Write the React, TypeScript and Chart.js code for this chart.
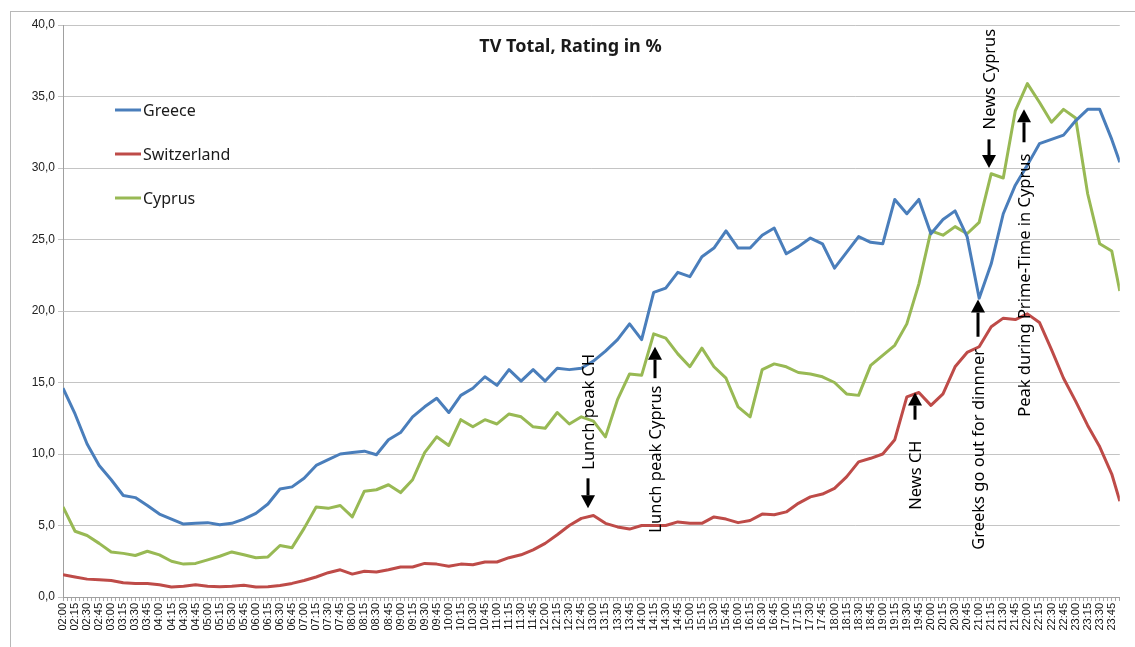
import { useEffect, useRef } from 'react';
import { Chart, registerables } from 'chart.js';

Chart.register(...registerables);

const timeLabels = [
  '02:00', '02:15', '02:30', '02:45', '03:00', '03:15', '03:30', '03:45', '04:00', '04:15',
  '04:30', '04:45', '05:00', '05:15', '05:30', '05:45', '06:00', '06:15', '06:30', '06:45',
  '07:00', '07:15', '07:30', '07:45', '08:00', '08:15', '08:30', '08:45', '09:00', '09:15',
  '09:30', '09:45', '10:00', '10:15', '10:30', '10:45', '11:00', '11:15', '11:30', '11:45',
  '12:00', '12:15', '12:30', '12:45', '13:00', '13:15', '13:30', '13:45', '14:00', '14:15',
  '14:30', '14:45', '15:00', '15:15', '15:30', '15:45', '16:00', '16:15', '16:30', '16:45',
  '17:00', '17:15', '17:30', '17:45', '18:00', '18:15', '18:30', '18:45', '19:00', '19:15',
  '19:30', '19:45', '20:00', '20:15', '20:30', '20:45', '21:00', '21:15', '21:30', '21:45',
  '22:00', '22:15', '22:30', '22:45', '23:00', '23:15', '23:30', '23:45', '23:55',
];

const greece = [
  14.6, 12.8, 10.7, 9.2, 8.2, 7.1, 6.95, 6.4, 5.8, 5.45,
  5.1, 5.15, 5.2, 5.05, 5.15, 5.45, 5.85, 6.5, 7.55, 7.7,
  8.3, 9.2, 9.6, 10.0, 10.1, 10.2, 9.95, 11.0, 11.5, 12.6,
  13.3, 13.9, 12.9, 14.1, 14.6, 15.4, 14.8, 15.9, 15.1, 15.9,
  15.1, 16.0, 15.9, 16.0, 16.5, 17.2, 18.0, 19.1, 18.0, 21.3,
  21.6, 22.7, 22.4, 23.8, 24.4, 25.6, 24.4, 24.4, 25.3, 25.8,
  24.0, 24.5, 25.1, 24.7, 23.0, 24.1, 25.2, 24.8, 24.7, 27.8,
  26.8, 27.8, 25.4, 26.4, 27.0, 25.2, 20.9, 23.3, 26.8, 28.8,
  30.2, 31.7, 32.0, 32.3, 33.3, 34.1, 34.1, 32.0, 30.4,
];

const switzerland = [
  1.55, 1.4, 1.25, 1.2, 1.15, 1.0, 0.95, 0.95, 0.85, 0.7,
  0.75, 0.85, 0.75, 0.72, 0.75, 0.82, 0.7, 0.72, 0.8, 0.95,
  1.15, 1.4, 1.7, 1.9, 1.6, 1.8, 1.75, 1.9, 2.1, 2.1,
  2.35, 2.3, 2.15, 2.3, 2.25, 2.45, 2.45, 2.75, 2.95, 3.3,
  3.75, 4.35, 5.0, 5.5, 5.7, 5.15, 4.9, 4.75, 5.0, 5.0,
  5.0, 5.25, 5.15, 5.15, 5.6, 5.45, 5.2, 5.35, 5.8, 5.75,
  5.95, 6.55, 7.0, 7.2, 7.6, 8.4, 9.45, 9.7, 10.0, 11.0,
  14.0, 14.3, 13.4, 14.2, 16.1, 17.1, 17.5, 18.9, 19.5, 19.4,
  19.8, 19.2, 17.3, 15.3, 13.7, 12.0, 10.5, 8.6, 6.7,
];

const cyprus = [
  6.3, 4.6, 4.3, 3.75, 3.15, 3.05, 2.9, 3.2, 2.95, 2.5,
  2.3, 2.35, 2.6, 2.85, 3.15, 2.95, 2.75, 2.8, 3.6, 3.45,
  4.8, 6.3, 6.2, 6.4, 5.6, 7.4, 7.5, 7.85, 7.3, 8.2,
  10.1, 11.2, 10.6, 12.4, 11.9, 12.4, 12.1, 12.8, 12.6, 11.9,
  11.8, 12.9, 12.1, 12.6, 12.3, 11.2, 13.8, 15.6, 15.5, 18.4,
  18.1, 17.0, 16.1, 17.4, 16.1, 15.3, 13.3, 12.6, 15.9, 16.3,
  16.1, 15.7, 15.6, 15.4, 15.0, 14.2, 14.1, 16.2, 16.9, 17.6,
  19.1, 21.9, 25.6, 25.3, 25.9, 25.4, 26.2, 29.6, 29.3, 34.0,
  35.9, 34.6, 33.2, 34.1, 33.5, 28.2, 24.7, 24.2, 21.4,
];

const seriesNames = ['Greece', 'Switzerland', 'Cyprus'];
const seriesColors = ['#4A7EBB', '#BE4B48', '#98B954'];
const chartTitle = 'TV Total, Rating in %';

const axisStart = '02:00';
const axisEnd = '23:55';
const lastTickLabel = '23:45';

// annotation: time of the arrow, value where text starts (bottom), arrow tail and head values
const annotations = [
  { text: 'Lunch peak CH', time: '12:53', textFrom: 8.9, arrowFrom: 8.3, arrowTo: 6.2 },
  { text: 'Lunch peak Cyprus', time: '14:17', textFrom: 4.5, arrowFrom: 15.3, arrowTo: 17.5 },
  { text: 'News CH', time: '19:40', textFrom: 6.1, arrowFrom: 12.4, arrowTo: 14.3 },
  { text: 'Greeks go out for dinnner', time: '20:58', textFrom: 3.3, arrowFrom: 18.2, arrowTo: 20.8 },
  { text: 'Peak during Prime-Time in Cyprus', time: '21:56', textFrom: 12.6, arrowFrom: 31.8, arrowTo: 34.1 },
  { text: 'News Cyprus', time: '21:12', textFrom: 32.7, arrowFrom: 32.0, arrowTo: 30.0 },
];

const toMin = (t: string) => {
  const [h, m] = t.split(':').map(Number);
  return h * 60 + m;
};
const fmtMin = (v: number) => {
  const h = Math.floor(v / 60);
  const m = v % 60;
  return String(h).padStart(2, '0') + ':' + String(m).padStart(2, '0');
};

const FONT = '"Noto Sans", "Open Sans", sans-serif';

const decorPlugin = {
  id: 'decor',
  beforeDraw(chart: any) {
    const ctx = chart.ctx;
    ctx.save();
    ctx.fillStyle = '#ffffff';
    ctx.fillRect(0, 0, chart.width, chart.height);
    ctx.strokeStyle = '#B8B8B8';
    ctx.lineWidth = 1;
    ctx.strokeRect(10.5, 11.5, chart.width + 20, chart.height + 20);
    ctx.restore();
  },
  afterDraw(chart: any) {
    const ctx = chart.ctx;
    const area = chart.chartArea;
    const xs = chart.scales.x;
    const ys = chart.scales.y;
    ctx.save();
    // title
    ctx.fillStyle = '#1a1a1a';
    ctx.font = 'bold 18px ' + FONT;
    ctx.textAlign = 'center';
    ctx.textBaseline = 'middle';
    ctx.fillText(chartTitle, chart.width / 2 + 3, area.top + 22);

    // legend
    ctx.font = '16px ' + FONT;
    ctx.textAlign = 'left';
    chart.data.datasets.forEach((ds: any, i: number) => {
      const y = area.top + 85 + i * 44;
      const x0 = area.left + 52;
      ctx.strokeStyle = ds.borderColor;
      ctx.lineWidth = 3;
      ctx.beginPath();
      ctx.moveTo(x0, y);
      ctx.lineTo(x0 + 26, y);
      ctx.stroke();
      ctx.fillStyle = '#1a1a1a';
      ctx.fillText(ds.label, x0 + 28, y + 1);
    });

    // annotations
    annotations.forEach((a) => {
      const x = Math.round(xs.getPixelForValue(toMin(a.time)));
      const ty = ys.getPixelForValue(a.textFrom);
      ctx.save();
      ctx.translate(x, ty);
      ctx.rotate(-Math.PI / 2);
      ctx.fillStyle = '#000';
      ctx.font = '16.5px ' + FONT;
      ctx.textAlign = 'left';
      ctx.textBaseline = 'middle';
      ctx.fillText(a.text, 0, 1);
      ctx.restore();

      const y1 = ys.getPixelForValue(a.arrowFrom);
      const y2 = ys.getPixelForValue(a.arrowTo);
      const dir = y2 > y1 ? 1 : -1;
      const headLen = 13;
      const headHalf = 7;
      ctx.strokeStyle = '#000';
      ctx.fillStyle = '#000';
      ctx.lineWidth = 3;
      ctx.beginPath();
      ctx.moveTo(x, y1);
      ctx.lineTo(x, y2 - dir * headLen);
      ctx.stroke();
      ctx.beginPath();
      ctx.moveTo(x - headHalf, y2 - dir * headLen);
      ctx.lineTo(x + headHalf, y2 - dir * headLen);
      ctx.lineTo(x, y2);
      ctx.closePath();
      ctx.fill();
    });
    ctx.restore();
  },
};

export default function App() {
  const canvasRef = useRef<HTMLCanvasElement | null>(null);

  useEffect(() => {
    if (!canvasRef.current) return;
    const minutes = timeLabels.map(toMin);
    const series = [greece, switzerland, cyprus];
    const chart = new Chart(canvasRef.current, {
      type: 'line',
      data: {
        datasets: series.map((vals, i) => ({
          label: seriesNames[i],
          data: vals.map((v, j) => ({ x: minutes[j], y: v })),
          borderColor: seriesColors[i],
          backgroundColor: seriesColors[i],
          borderWidth: 3,
          pointRadius: 0,
          tension: 0,
          borderJoinStyle: 'round',
          fill: false,
        })),
      },
      options: {
        responsive: false,
        animation: false,
        layout: { padding: { left: 0, right: 7, top: 25, bottom: 0 } },
        plugins: {
          legend: { display: false },
          title: { display: false },
          tooltip: { enabled: false },
        },
        scales: {
          x: {
            type: 'linear',
            min: toMin(axisStart),
            max: toMin(axisEnd),
            afterFit: (scale: any) => {
              scale.height = 50;
            },
            grid: { drawOnChartArea: false, tickLength: 4, color: '#A8A8A8' },
            border: { color: '#A0A0A0' },
            ticks: {
              stepSize: 5,
              autoSkip: false,
              minRotation: 90,
              maxRotation: 90,
              padding: 2,
              color: '#111',
              font: { family: '"Liberation Sans", Arial, sans-serif', size: 11 },
              callback: (value: any) => {
                const v = Number(value);
                if (v % 15 !== 0 || v > toMin(lastTickLabel)) return '';
                return fmtMin(v);
              },
            },
          },
          y: {
            min: 0,
            max: 40,
            afterFit: (scale: any) => {
              scale.width = 63;
            },
            grid: { color: '#C4C4C4', tickLength: 5, lineWidth: 1 },
            border: { color: '#A0A0A0' },
            ticks: {
              stepSize: 5,
              padding: 3,
              color: '#222',
              font: { family: '"Liberation Sans", Arial, sans-serif', size: 12 },
              callback: (value: any) => Number(value).toFixed(1).replace('.', ','),
            },
          },
        },
      },
      plugins: [decorPlugin],
    } as any);
    return () => chart.destroy();
  }, []);

  return (
    <div style={{ position: 'fixed', left: 0, top: 0, width: 1135, height: 647, background: '#fff' }}>
      <canvas ref={canvasRef} width={1135} height={647} style={{ display: 'block' }} />
    </div>
  );
}
